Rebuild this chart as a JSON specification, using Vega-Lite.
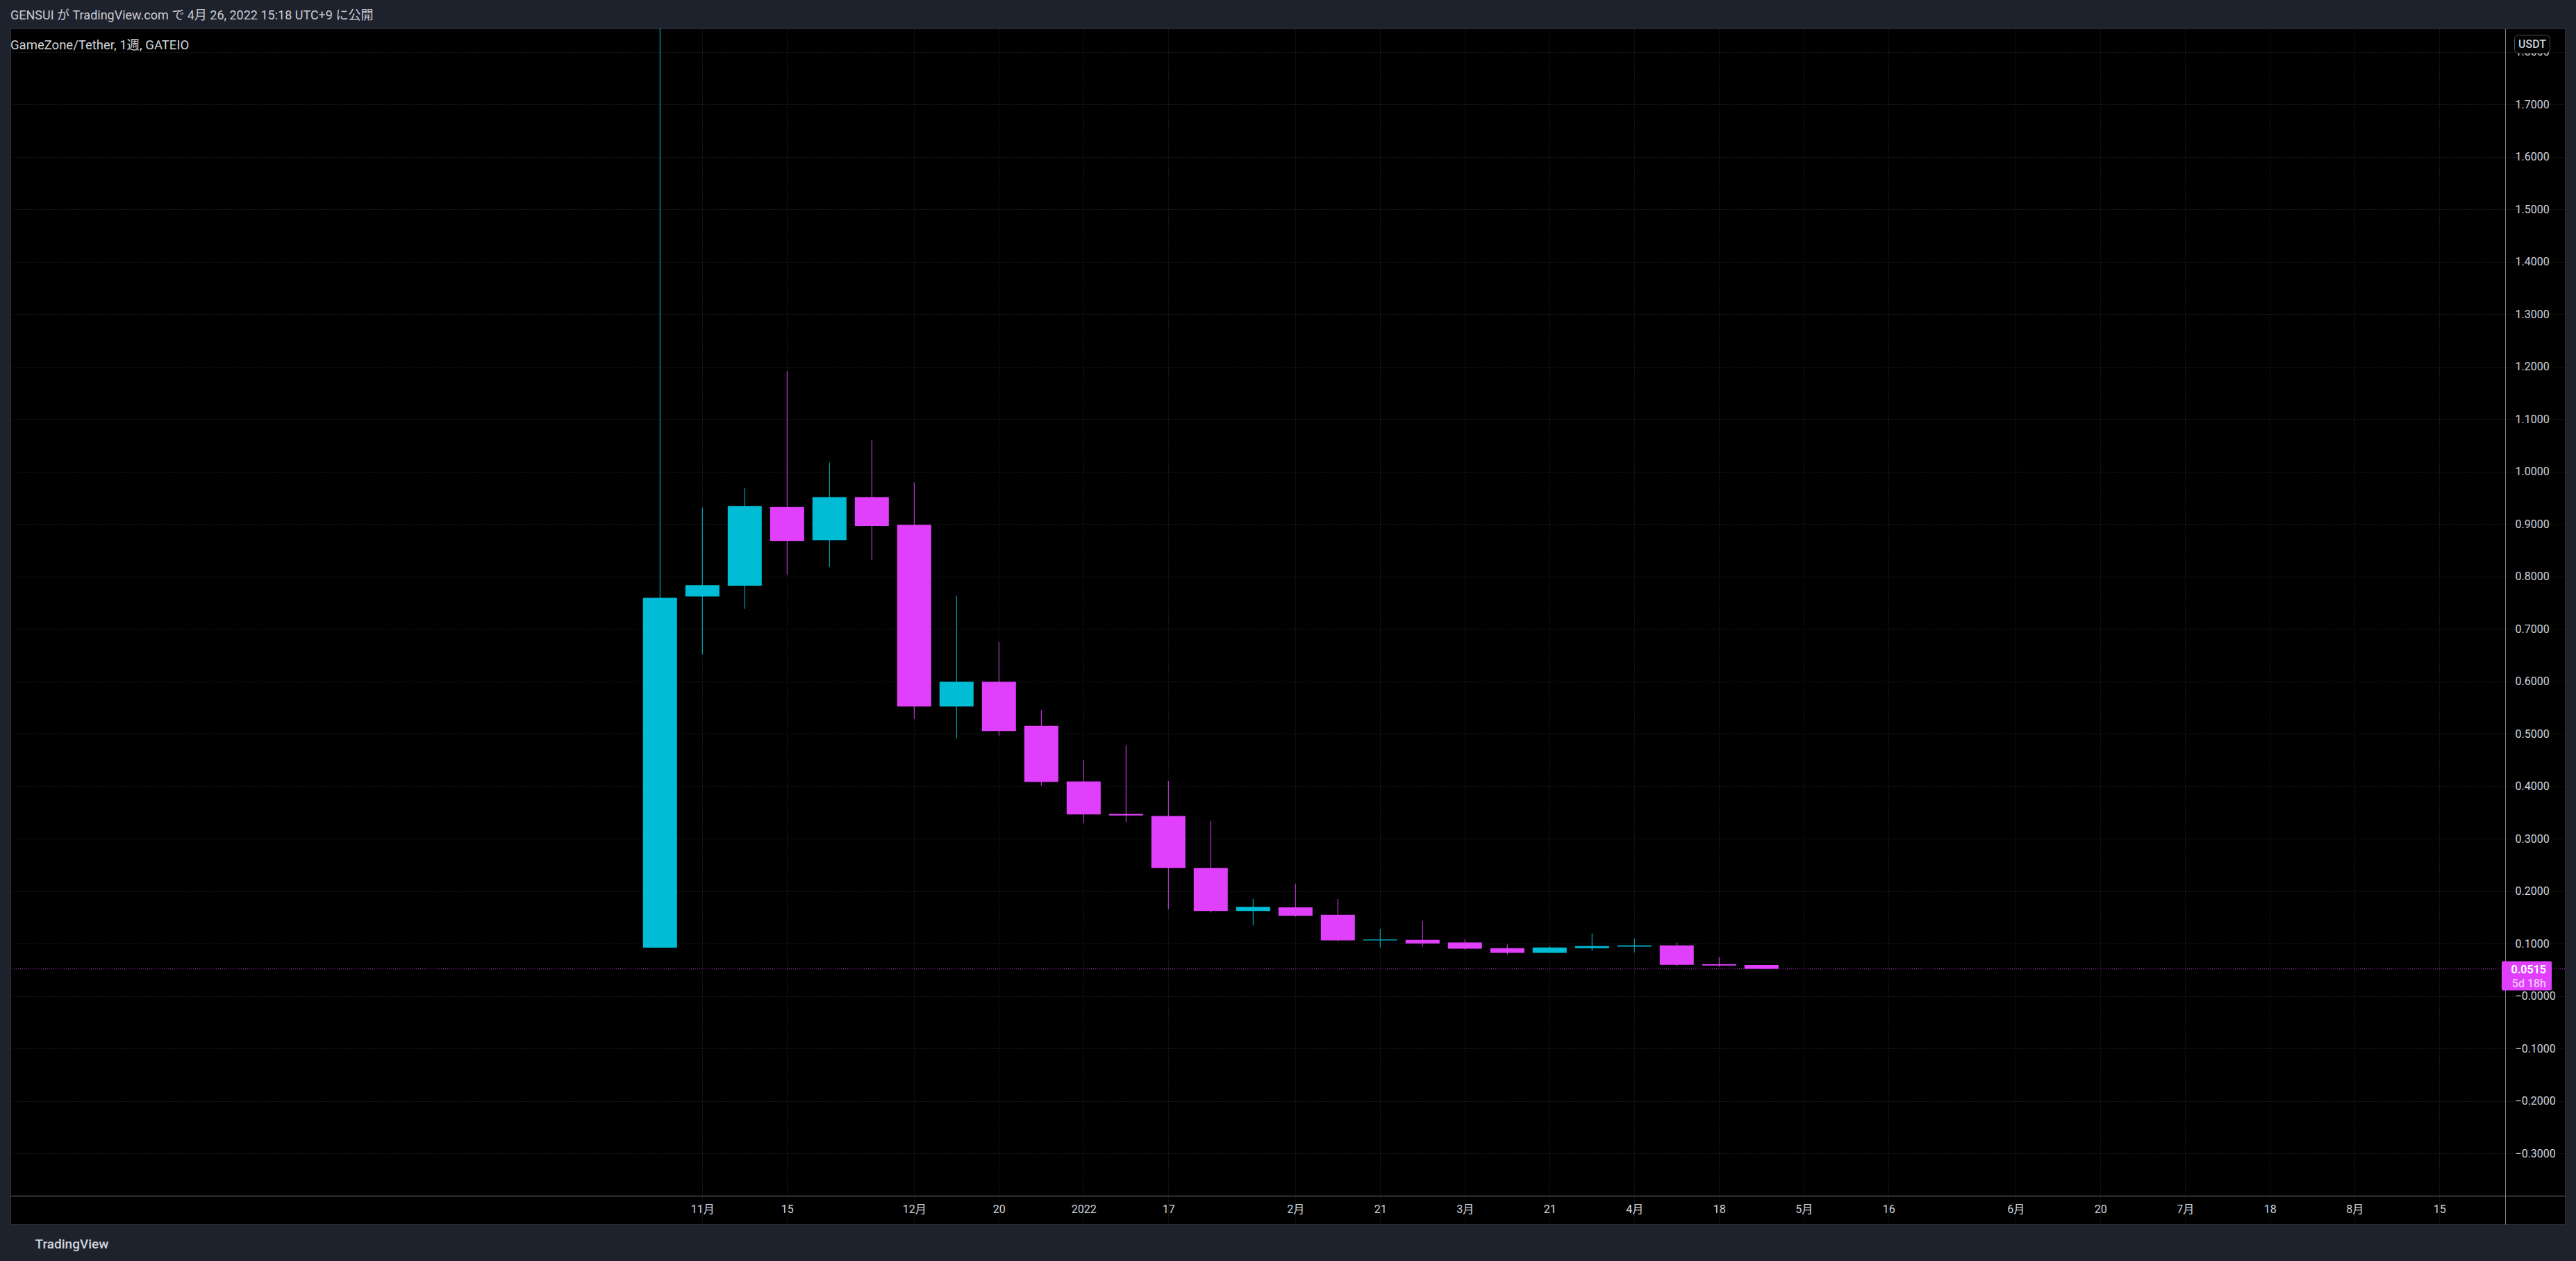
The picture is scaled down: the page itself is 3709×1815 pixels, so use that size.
{
  "$schema": "https://vega.github.io/schema/vega-lite/v6.json",
  "width": 3678,
  "height": 1721,
  "autosize": {"type": "none"},
  "padding": {"left": 15, "top": 41, "right": 16, "bottom": 53},
  "background": "#1E222D",
  "config": {
    "font": "Roboto, 'Noto Sans CJK JP', sans-serif",
    "view": {"fill": "#000000", "stroke": "#2A2E39", "strokeWidth": 1}
  },
  "title": {
    "text": "GENSUI が TradingView.com で 4月 26, 2022 15:18 UTC+9 に公開",
    "subtitle": "\u00a0\u00a0\u00a0GameZone/Tether, 1週, GATEIO",
    "anchor": "start",
    "frame": "group",
    "offset": -33,
    "fontSize": 18,
    "fontWeight": "normal",
    "color": "#C9CCD4",
    "subtitleFontSize": 18.5,
    "subtitleColor": "#D1D4DC",
    "subtitlePadding": 24
  },
  "datasets": {
    "candles": [
      {"date": "2021-10-25", "open": 0.092, "high": 2.0, "low": 0.092, "close": 0.759},
      {"date": "2021-11-01", "open": 0.7615, "high": 0.931, "low": 0.651, "close": 0.783},
      {"date": "2021-11-08", "open": 0.782, "high": 0.969, "low": 0.738, "close": 0.934},
      {"date": "2021-11-15", "open": 0.932, "high": 1.191, "low": 0.803, "close": 0.867},
      {"date": "2021-11-22", "open": 0.869, "high": 1.017, "low": 0.818, "close": 0.951},
      {"date": "2021-11-29", "open": 0.951, "high": 1.06, "low": 0.831, "close": 0.896},
      {"date": "2021-12-06", "open": 0.898, "high": 0.979, "low": 0.528, "close": 0.552},
      {"date": "2021-12-13", "open": 0.552, "high": 0.763, "low": 0.491, "close": 0.599},
      {"date": "2021-12-20", "open": 0.599, "high": 0.675, "low": 0.496, "close": 0.505},
      {"date": "2021-12-27", "open": 0.515, "high": 0.545, "low": 0.401, "close": 0.408},
      {"date": "2022-01-03", "open": 0.409, "high": 0.45, "low": 0.33, "close": 0.346},
      {"date": "2022-01-10", "open": 0.347, "high": 0.478, "low": 0.332, "close": 0.344},
      {"date": "2022-01-17", "open": 0.343, "high": 0.41, "low": 0.165, "close": 0.244},
      {"date": "2022-01-24", "open": 0.244, "high": 0.334, "low": 0.159, "close": 0.162},
      {"date": "2022-01-31", "open": 0.162, "high": 0.185, "low": 0.134, "close": 0.17},
      {"date": "2022-02-07", "open": 0.169, "high": 0.214, "low": 0.151, "close": 0.153},
      {"date": "2022-02-14", "open": 0.1547, "high": 0.185, "low": 0.1035, "close": 0.106},
      {"date": "2022-02-21", "open": 0.106, "high": 0.128, "low": 0.0925, "close": 0.1075},
      {"date": "2022-02-28", "open": 0.107, "high": 0.143, "low": 0.094, "close": 0.1},
      {"date": "2022-03-07", "open": 0.102, "high": 0.108, "low": 0.0885, "close": 0.09},
      {"date": "2022-03-14", "open": 0.091, "high": 0.098, "low": 0.079, "close": 0.082},
      {"date": "2022-03-21", "open": 0.082, "high": 0.095, "low": 0.082, "close": 0.0925},
      {"date": "2022-03-28", "open": 0.091, "high": 0.119, "low": 0.086, "close": 0.095},
      {"date": "2022-04-04", "open": 0.094, "high": 0.11, "low": 0.083, "close": 0.0965},
      {"date": "2022-04-11", "open": 0.0965, "high": 0.102, "low": 0.0568, "close": 0.0594},
      {"date": "2022-04-18", "open": 0.0607, "high": 0.074, "low": 0.0554, "close": 0.058},
      {"date": "2022-04-25", "open": 0.059, "high": 0.059, "low": 0.0515, "close": 0.0515}
    ],
    "last": [{"price": 0.0515, "label": "0.0515", "countdown": "5d 18h"}],
    "unit": [{"unit": "USDT"}]
  },
  "layer": [
    {
      "data": {"name": "candles"},
      "mark": {"type": "rule", "clip": true, "strokeWidth": 1},
      "encoding": {
        "x": {
          "field": "date", "type": "temporal",
          "scale": {"type": "utc", "domain": [1625895960000, 1662264300000]},
          "axis": {
            "orient": "bottom", "offset": -41,
            "values": [
              {"year": 2021, "month": 11, "date": 1, "utc": true},
              {"year": 2021, "month": 11, "date": 15, "utc": true},
              {"year": 2021, "month": 12, "date": 6, "utc": true},
              {"year": 2021, "month": 12, "date": 20, "utc": true},
              {"year": 2022, "month": 1, "date": 3, "utc": true},
              {"year": 2022, "month": 1, "date": 17, "utc": true},
              {"year": 2022, "month": 2, "date": 7, "utc": true},
              {"year": 2022, "month": 2, "date": 21, "utc": true},
              {"year": 2022, "month": 3, "date": 7, "utc": true},
              {"year": 2022, "month": 3, "date": 21, "utc": true},
              {"year": 2022, "month": 4, "date": 4, "utc": true},
              {"year": 2022, "month": 4, "date": 18, "utc": true},
              {"year": 2022, "month": 5, "date": 2, "utc": true},
              {"year": 2022, "month": 5, "date": 16, "utc": true},
              {"year": 2022, "month": 6, "date": 6, "utc": true},
              {"year": 2022, "month": 6, "date": 20, "utc": true},
              {"year": 2022, "month": 7, "date": 4, "utc": true},
              {"year": 2022, "month": 7, "date": 18, "utc": true},
              {"year": 2022, "month": 8, "date": 1, "utc": true},
              {"year": 2022, "month": 8, "date": 15, "utc": true}
            ],
            "labelExpr": "utcdate(datum.value) <= 7 ? (utcmonth(datum.value) == 0 ? '' + utcyear(datum.value) : (utcmonth(datum.value) + 1) + '月') : '' + utcdate(datum.value)",
            "grid": true, "gridColor": "#2A2E39", "gridDash": [1, 2], "gridWidth": 1,
            "ticks": false, "tickSize": 0,
            "domainColor": "#787B86", "domainWidth": 1,
            "labelColor": "#D1D4DC", "labelFontSize": 16, "labelPadding": 19,
            "labelBaseline": "middle", "labelOverlap": false, "labelFlush": false,
            "title": "TradingView", "titleAnchor": "start", "titleAlign": "left",
            "titleX": 35, "titleY": 69, "titleBaseline": "middle",
            "titleFontSize": 19, "titleColor": "#D1D4DC", "titleFontWeight": 500
          }
        },
        "y": {
          "field": "low", "type": "quantitative",
          "scale": {"domain": [-0.4351, 1.8444], "nice": false, "zero": false},
          "axis": {
            "orient": "right", "offset": -86,
            "values": [-0.3, -0.2, -0.1, 0, 0.1, 0.2, 0.3, 0.4, 0.5, 0.6, 0.7, 0.8, 0.9, 1.0, 1.1, 1.2, 1.3, 1.4, 1.5, 1.6, 1.7, 1.8],
            "labelExpr": "datum.value == 0 ? '−0.0000' : format(datum.value, '.4f')",
            "grid": true, "gridColor": "#2A2E39", "gridDash": [1, 2], "gridWidth": 1,
            "ticks": false, "tickSize": 0,
            "domainColor": "#787B86", "domainWidth": 1,
            "labelColor": "#D1D4DC", "labelFontSize": 16, "labelPadding": 14,
            "labelOverlap": false, "labelFlush": false,
            "title": null
          }
        },
        "y2": {"field": "high"},
        "color": {"condition": {"test": "datum.close >= datum.open", "value": "#00BCD4"}, "value": "#E040FB"}
      }
    },
    {
      "data": {"name": "candles"},
      "mark": {"type": "bar", "width": 49, "clip": true},
      "encoding": {
        "x": {"field": "date", "type": "temporal"},
        "y": {"field": "open", "type": "quantitative"},
        "y2": {"field": "close"},
        "color": {"condition": {"test": "datum.close >= datum.open", "value": "#00BCD4"}, "value": "#E040FB"}
      }
    },
    {
      "data": {"name": "last"},
      "mark": {"type": "rule", "color": "#E040FB", "strokeDash": [1, 2], "strokeWidth": 1},
      "encoding": {"y": {"field": "price", "type": "quantitative"}}
    },
    {
      "data": {"name": "last"},
      "mark": {"type": "tick", "orient": "horizontal", "size": 72, "thickness": 42, "color": "#E040FB", "opacity": 1, "xOffset": -50, "yOffset": 10, "cornerRadius": 2},
      "encoding": {
        "x": {"datum": 1662264300000, "type": "temporal"},
        "y": {"field": "price", "type": "quantitative"}
      }
    },
    {
      "data": {"name": "last"},
      "mark": {"type": "text", "align": "right", "baseline": "middle", "fontSize": 16, "fontWeight": "bold", "color": "#FFFFFF", "xOffset": -22, "yOffset": 1},
      "encoding": {
        "x": {"datum": 1662264300000, "type": "temporal"},
        "y": {"field": "price", "type": "quantitative"},
        "text": {"field": "label"}
      }
    },
    {
      "data": {"name": "last"},
      "mark": {"type": "text", "align": "right", "baseline": "middle", "fontSize": 16, "fontWeight": 500, "color": "#F5C6FD", "xOffset": -22, "yOffset": 21},
      "encoding": {
        "x": {"datum": 1662264300000, "type": "temporal"},
        "y": {"field": "price", "type": "quantitative"},
        "text": {"field": "countdown"}
      }
    },
    {
      "data": {"name": "unit"},
      "mark": {"type": "tick", "orient": "horizontal", "size": 51, "thickness": 26, "fill": "#000000", "stroke": "#50535E", "strokeWidth": 1, "opacity": 1, "cornerRadius": 6, "xOffset": -42, "yOffset": -11},
      "encoding": {
        "x": {"datum": 1662264300000, "type": "temporal"},
        "y": {"datum": 1.8, "type": "quantitative"}
      }
    },
    {
      "data": {"name": "unit"},
      "mark": {"type": "text", "align": "center", "baseline": "middle", "fontSize": 16, "fontWeight": 500, "color": "#D1D4DC", "xOffset": -42, "yOffset": -11},
      "encoding": {
        "x": {"datum": 1662264300000, "type": "temporal"},
        "y": {"datum": 1.8, "type": "quantitative"},
        "text": {"field": "unit"}
      }
    }
  ]
}
